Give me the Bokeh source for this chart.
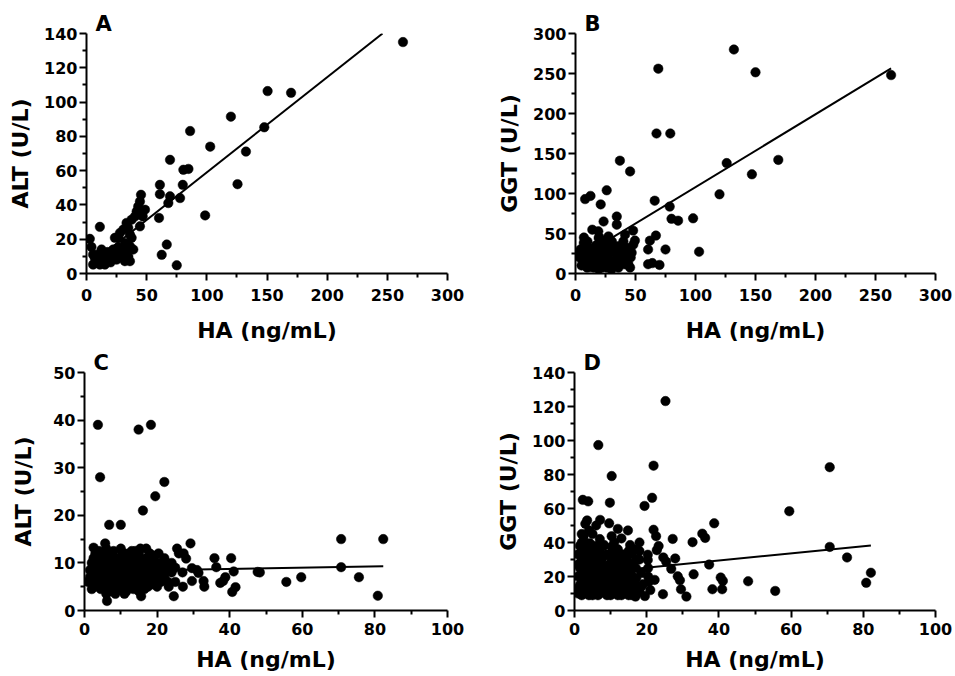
from bokeh.plotting import figure
from bokeh.layouts import column, row
from bokeh.models import FixedTicker, Title, Range1d
from bokeh.embed import file_html
from bokeh.resources import INLINE

FONT = "DejaVu Sans"

# ---------------- Panel A: ALT vs HA (group 1) ----------------
A_x = [2.75, 4.1, 5.5, 6.9, 5.5, 11.1, 8.8, 12.5, 13.9, 11.1, 15.3, 16.7, 19.4, 22.2, 23.6,
       26.4, 29.2, 25, 30.6, 33.3, 34.7, 33.3, 31.9, 26.4, 23.6, 27.75, 30.6, 34.7, 36.1, 33.3,
       37.5, 40.3, 41.7, 43, 44.4, 45.3, 48.6, 46.7, 44.4, 37.5, 36.1, 38.9, 36.1, 31.9, 29.2,
       9.5, 17.5, 20, 14.5,
       61, 80, 61, 69.4, 77.75, 68, 60.25, 98.6, 66.7, 62.5, 75, 125.5, 69.4, 80.5, 84.7,
       86.1, 102.8, 120, 132.5, 147.75, 150.5, 170, 263]
A_y = [20.2, 15.5, 11, 9, 5.2, 27.2, 11, 14, 10, 5.2, 5.2, 8.1, 11.9, 14, 10,
       15.3, 14, 8.1, 9, 8.1, 10, 14, 17.8, 20.8, 20.8, 23.6, 25.6, 26.6, 22.7, 29.5,
       31.4, 33.3, 36.2, 39.1, 42, 45.9, 37.2, 33.3, 27.5, 20.8, 15.9, 14, 7.2, 7.2, 11.9,
       7, 12.5, 6.5, 12,
       51.7, 51.7, 46.3, 45, 44, 41.1, 32.4, 33.9, 16.9, 10.9, 4.8, 52.1, 66.3, 60.5, 61,
       83.1, 74, 91.5, 71.1, 85.3, 106.4, 105.4, 135]
A_fit_x = [2.5, 246]
A_fit_y = [4.9, 140]
A_xticks = [0, 50, 100, 150, 200, 250, 300]
A_xminor = [25, 75, 125, 175, 225, 275]
A_yticks = [0, 20, 40, 60, 80, 100, 120, 140]
A_yminor = [10, 30, 50, 70, 90, 110, 130]

# ---------------- Panel B: GGT vs HA (group 1) ----------------
B_x = [69, 67.5, 79, 132, 150, 263, 126, 169, 147, 120, 37, 45.5, 26, 8, 12.5, 21, 66, 78.5,
       80, 85.5, 98, 103, 75, 67, 62, 60.5, 60.5, 70, 64, 49.5, 48, 34.4, 34.4, 23.4, 14, 19,
       3.6, 5.5, 6.9, 11, 12.4, 9.6, 12.4, 15.2, 16.5, 19.3, 20.7, 22, 24.8, 26.2, 24.8, 27.5,
       30.3, 29, 33.1, 34.4, 31.7, 37.2, 38.6, 35.8, 39.9, 41.3, 42.7, 44.1, 41.3, 45.5, 46.8,
       48.2, 35.8, 26.2, 19.3, 15.2, 9.6, 22, 19.3, 4.1,
       5, 8, 10, 13, 15, 17, 18, 21, 23, 25, 28, 30, 32, 35, 38, 40, 42, 44, 46, 30, 20, 12, 7, 3]
B_y = [256, 175, 175, 280, 251.5, 248, 138, 142, 124, 99, 141, 127.6, 104, 93, 97, 86.4, 91, 83.6,
       68.4, 66, 69, 27.2, 30, 47.4, 41, 30, 11.6, 10.7, 13, 41.2, 53.6, 71.2, 61, 65, 54.8, 52.7,
       19.8, 29.9, 38.2, 32.1, 23.9, 15.7, 11.5, 7.4, 17.7, 26, 13.6, 7.4, 19.8, 28, 40.3, 46.4,
       40.3, 32.1, 26, 15.7, 9.5, 11.5, 23.9, 34.2, 40.3, 48.5, 32.1, 19.8, 11.5, 7.4, 26,
       36.2, 7.4, 7.4, 5.4, 23.9, 7.4, 36.2, 44.4, 30,
       10, 25, 40, 30, 15, 35, 20, 25, 10, 33, 18, 28, 12, 22, 16, 30, 22, 12, 20, 5, 45, 8, 45, 25]
B_fit_x = [3.5, 263]
B_fit_y = [20.2, 256.3]
B_xticks = [0, 50, 100, 150, 200, 250, 300]
B_xminor = [25, 75, 125, 175, 225, 275]
B_yticks = [0, 50, 100, 150, 200, 250, 300]
B_yminor = [25, 75, 125, 175, 225, 275]

# ---------------- Panel C: ALT vs HA (group 2) ----------------
C_x = [3.7, 4.3, 14.9, 18.3, 22, 19.5, 16.1, 6.8, 10, 5.7, 2.5, 7.1, 10, 12.3, 15.4, 20.4, 25.5,
       27.3, 29.2, 28, 29.6, 31.4, 29.6, 32.8, 33, 35.8, 36.3, 38.2, 38.8, 40.4, 41.1, 40.7, 41.6,
       47.7, 24.6, 27.1, 25, 23.2, 15.6, 6.2, 37.4, 31, 70.7, 82.3, 70.7, 48.3, 55.6, 59.7, 75.6, 80.8,
       3, 4.5, 6, 8, 9, 11, 13, 14, 17, 19, 21,
       2, 3.5, 5, 6.5, 7.5, 8.5, 10, 11.5, 12.5, 13.5, 15, 16, 18, 20, 22, 23,
       1.5, 2.5, 4, 5.5, 6.5, 7.5, 8.5, 9.5, 10.5, 11.5, 12.5, 13.5, 14.5, 15.5, 16.5, 17.5, 19, 20.5, 21.5, 24,
       1, 2, 3, 4, 5, 6, 7, 8, 9, 10, 11, 12, 13, 14, 15, 16, 17, 18, 19, 20, 21, 22,
       3, 4.5, 5.5, 7, 8, 9.5, 10.5, 11.5, 12.5, 13.5, 14.5, 16.5, 17.5, 6, 8.5, 11,
       5, 7, 9, 11, 13, 15, 4, 6,
       2, 3.5, 5, 6.5, 8, 9.5, 10.5, 12, 13, 14, 15, 16, 17, 18, 19, 20, 21, 22, 2.5, 4,
       5.5, 7, 9, 12, 14, 16, 18, 20, 1.5, 3, 10, 11, 13, 15, 17, 23, 24, 25, 26, 27]
C_y = [39, 28, 38, 39, 27, 24, 21, 18, 18, 14.1, 13.2, 12, 13, 12, 13, 12, 13,
       12, 14.1, 10.9, 8.9, 7.9, 6.2, 6.2, 5, 11, 9.1, 6.2, 7, 11, 8.2, 3.9, 4.9,
       8.1, 3, 5, 6, 5, 3, 2, 5.8, 8.5, 15, 15, 9.1, 8, 6, 7, 7, 3.1,
       12, 11.5, 13, 12.5, 11, 12, 11.5, 12.5, 11, 11.5, 10,
       10, 9.5, 10.5, 10, 9.5, 10.5, 10, 10.5, 9.5, 10, 10.5, 9.5, 10, 9, 9.5, 8.5,
       8.5, 8, 8.5, 8, 8.5, 7.5, 8.5, 8, 8.5, 7.5, 8.5, 8, 8.5, 7.5, 8.5, 8, 8, 7.5, 8.5, 8,
       6, 6.5, 7, 6, 7, 6, 6.5, 7, 6, 7, 6.5, 6, 7, 6, 6.5, 7, 6, 6.5, 5.5, 6.5, 6, 7,
       5, 4.5, 5, 4, 5, 4.5, 5, 4, 5, 4.5, 5, 4.5, 5, 3.5, 3.5, 3.5,
       9, 11, 9, 9, 9.5, 12, 12.5, 11.5,
       4.5, 5.5, 6.5, 4.5, 9, 10, 12, 10.5, 5.5, 9, 4, 10.5, 7.5, 9, 11, 5, 7.5, 11, 11, 10,
       12, 9.5, 5, 7, 11, 5.5, 12, 10, 7, 9, 8, 10, 12.5, 9, 13, 6, 10, 9, 12, 8]
C_fit_x = [2.5, 82.3]
C_fit_y = [8.25, 9.3]
C_xticks = [0, 20, 40, 60, 80, 100]
C_xminor = [10, 30, 50, 70, 90]
C_yticks = [0, 10, 20, 30, 40, 50]
C_yminor = [5, 15, 25, 35, 45]

# ---------------- Panel D: GGT vs HA (group 2) ----------------
D_x = [25.2, 6.6, 21.9, 10.3, 2.3, 3.8, 21.5, 19.4, 9.8, 38.7, 35.4, 36.2, 32.7, 27.2, 21.9, 22.6,
       23.3, 22.8, 14.8, 13, 7.1, 9.6, 3, 3.5, 10.3, 8.2, 10.3, 2.5, 4.3, 15.4, 16, 20.3, 20.3,
       24.6, 25.4, 27.9, 26.8, 28.6, 29.2, 29.5, 31, 33, 37.3, 40.5, 41.1, 38.2, 40.9, 24.5,
       20.4, 20.4, 20.6, 22.2, 17.1, 16.9, 19.5, 21, 18.5, 19,
       70.7, 59.5, 70.7, 75.5, 48.1, 55.6, 80.8, 82.1,
       1, 1.5, 1, 1.5, 2, 2.5, 2.5, 3, 3, 3.5, 4, 4, 4.5, 4.5, 5, 5, 5.5, 5.5, 6, 6, 6.5, 6.5,
       7, 7, 7.5, 8, 8, 8.5, 8.5, 9, 9, 9.5, 9.5, 10, 10, 10.5, 11, 11, 11.5, 11.5, 12, 12,
       12.5, 12.5, 13, 13.5, 13.5, 14, 14, 14.5, 15, 15, 15.5, 15.5, 16, 3, 6, 12, 14, 2, 5, 7,
       11, 13, 8, 17, 17, 18, 16.5, 18, 18.5, 1.5, 4, 6, 12,
       1, 1, 1, 2, 2, 2, 2, 3, 3, 3, 4, 4, 4, 5, 5, 5, 6, 6, 6, 7, 7, 7, 8, 8, 8,
       9, 9, 9, 10, 10, 10, 11, 11, 11, 12, 12, 13, 13, 13, 14, 14, 15, 15, 16, 16, 16, 17, 17, 18, 18]
D_y = [123.2, 97.3, 85.2, 79.1, 65.1, 64.2, 66.3, 61.5, 63.4, 51.3, 45.2, 42.7, 40.2, 42.1, 47.5, 43.7,
       37.9, 35.5, 47.1, 42.4, 53.3, 51.3, 51, 53, 43.7, 38.5, 37.4, 43.7, 39.5, 38.5, 33.5, 32.8, 29.7,
       31.2, 28.7, 30.6, 24.5, 20.1, 17.8, 12.5, 8.2, 21.3, 27, 19.4, 17.4, 12.5, 12.5, 9.6,
       25, 20, 17, 18, 19, 8.2, 8.5, 12, 14, 15.5,
       84.3, 58.4, 37.4, 31.2, 17.2, 11.5, 16.3, 22.2,
       10, 15, 20, 25, 30, 35, 12, 18, 22, 28, 9, 14, 20, 25, 31, 35, 11, 17, 22, 27, 9, 14,
       19, 24, 30, 12, 17, 21, 26, 9, 33, 15, 19, 23, 28, 11, 16, 20, 25, 31, 9, 13,
       18, 22, 27, 10, 15, 20, 24, 30, 9, 13, 17, 22, 27, 40, 38, 36, 33, 45, 45, 42,
       40, 28, 32, 10, 25, 30, 36, 40, 22, 38, 47, 50, 48,
       13, 27, 33, 9, 17, 23, 40, 12, 26, 32, 17, 30, 36, 9, 22, 27, 12, 18, 31, 10, 28, 35, 14, 21, 38,
       12, 18, 26, 9, 16, 32, 12, 24, 35, 17, 29, 9, 21, 33, 12, 17, 25, 35, 9, 14, 20, 15, 30, 11, 35]
D_fit_x = [1, 82.1]
D_fit_y = [21.2, 38.2]
D_xticks = [0, 20, 40, 60, 80, 100]
D_xminor = [10, 30, 50, 70, 90]
D_yticks = [0, 20, 40, 60, 80, 100, 120, 140]
D_yminor = [10, 30, 50, 70, 90, 110, 130]

X_LABEL = "HA (ng/mL)"


def panel(xs, ys, fx, fy, xmax, ymax, xt, xm, yt, ym, ylabel, letter,
          width, height, bl, br, bt, bb, ylab_st, xlab_st, xtick_st):
    p = figure(width=width, height=height, output_backend="svg", toolbar_location=None,
               title=None, x_range=Range1d(0, xmax), y_range=Range1d(0, ymax),
               min_border_left=bl, min_border_right=br, min_border_top=bt,
               min_border_bottom=bb)
    p.outline_line_color = None
    p.xgrid.visible = False
    p.ygrid.visible = False
    p.background_fill_color = "white"
    p.border_fill_color = "white"
    p.scatter(xs, ys, size=9.5, fill_color="black", line_color="black", line_width=0.5)
    p.line(fx, fy, line_color="black", line_width=2)

    p.xaxis.ticker = FixedTicker(ticks=xt, minor_ticks=xm)
    p.yaxis.ticker = FixedTicker(ticks=yt, minor_ticks=ym)
    p.xaxis.axis_label = X_LABEL
    p.yaxis.axis_label = ylabel
    for ax in (p.xaxis[0], p.yaxis[0]):
        ax.axis_line_width = 2
        ax.axis_line_color = "black"
        ax.major_tick_line_width = 2
        ax.minor_tick_line_width = 2
        ax.major_tick_line_color = "black"
        ax.minor_tick_line_color = "black"
        ax.major_tick_out = 7
        ax.major_tick_in = 0
        ax.minor_tick_out = 4
        ax.minor_tick_in = 0
        ax.major_label_text_font = FONT
        ax.major_label_text_font_style = "bold"
        ax.major_label_text_font_size = "16px"
        ax.major_label_text_color = "black"
        ax.axis_label_text_font = FONT
        ax.axis_label_text_font_style = "bold"
        ax.axis_label_text_font_size = "22px"
        ax.axis_label_text_color = "black"
    p.yaxis.major_label_standoff = 2
    p.yaxis.axis_label_standoff = ylab_st
    p.xaxis.major_label_standoff = xtick_st
    p.xaxis.axis_label_standoff = xlab_st

    p.add_layout(Title(text=letter, align="left", offset=9, standoff=-4,
                       text_font=FONT, text_font_style="bold", text_font_size="21px",
                       text_color="black"), "above")
    return p


pA = panel(A_x, A_y, A_fit_x, A_fit_y, 300, 140, A_xticks, A_xminor, A_yticks, A_yminor,
           "ALT (U/L)", "A", 480, 350, 86, 33, 33, 76, 8, 14, 8)
pB = panel(B_x, B_y, B_fit_x, B_fit_y, 300, 300, B_xticks, B_xminor, B_yticks, B_yminor,
           "GGT (U/L)", "B", 472, 350, 95, 17, 30, 77, 8, 14, 8)
pC = panel(C_x, C_y, C_fit_x, C_fit_y, 100, 50, C_xticks, C_xminor, C_yticks, C_yminor,
           "ALT (U/L)", "C", 480, 326, 84, 33, 17, 66, 14, 9, 5)
pD = panel(D_x, D_y, D_fit_x, D_fit_y, 100, 140, D_xticks, D_xminor, D_yticks, D_yminor,
           "GGT (U/L)", "D", 472, 326, 94, 17, 17, 66, 8, 9, 5)

layout = column(row(pA, pB), row(pC, pD))

open("out.html", "w").write(file_html(layout, INLINE))
